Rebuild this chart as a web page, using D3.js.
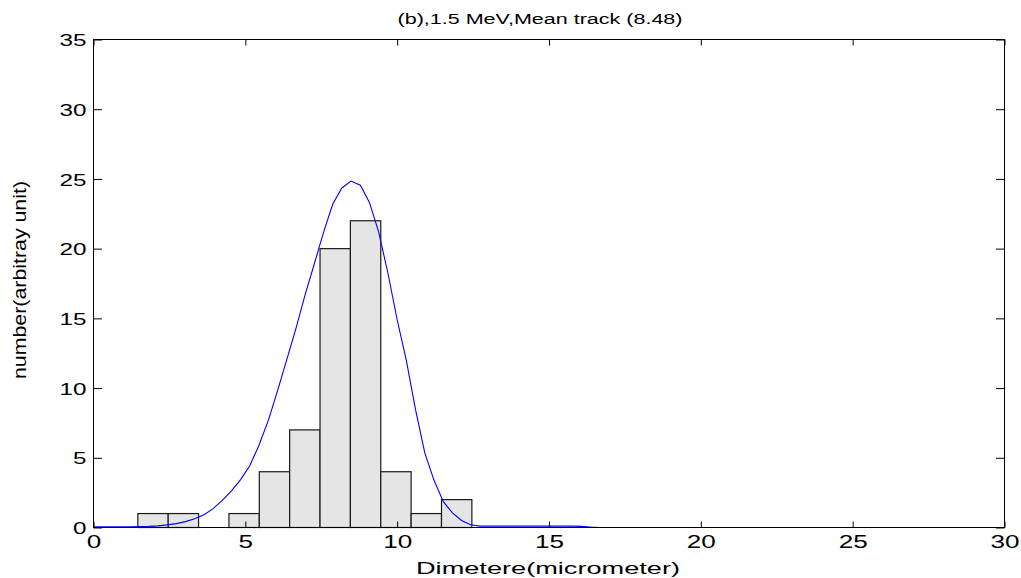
<!DOCTYPE html>
<html><head><meta charset="utf-8">
<script src="https://cdn.jsdelivr.net/npm/d3@7"></script>
<style>
html,body{margin:0;padding:0;background:#fff;}
text{font-family:"Liberation Sans",Arial,sans-serif;fill:#000;}
</style></head>
<body><svg id="chart" width="1021" height="578"></svg>
<script>
// ---- data ----
const binCenters = [1.96, 2.96, 3.96, 4.96, 5.96, 6.96, 7.96, 8.96, 9.96, 10.96, 11.96];
const binCounts  = [1, 1, 0, 1, 4, 7, 20, 22, 4, 1, 2];
const binWidth = 1.0;
const fitX = [0.00,0.30,0.61,0.91,1.21,1.52,1.82,2.12,2.42,2.73,3.03,3.33,3.64,3.94,4.24,4.55,4.85,5.15,5.45,5.76,
              6.06,6.36,6.67,6.97,7.27,7.58,7.88,8.18,8.48,8.79,9.09,9.39,9.70,10.00,10.30,10.61,10.91,11.21,11.52,11.82,
              12.12,12.42,12.73,13.03,13.33,13.64,13.94,14.24,14.55,14.85,15.15,15.45,15.76,16.06,16.36,16.67,30.00];
const fitY = [0.05,0.05,0.05,0.05,0.05,0.06,0.08,0.12,0.19,0.28,0.42,0.62,0.92,1.35,1.95,2.65,3.45,4.45,5.9,7.7,
              9.8,12.0,14.3,16.7,18.9,21.2,23.2,24.35,24.85,24.55,23.3,21.2,18.2,14.9,12.0,8.4,5.35,3.4,1.85,1.05,
              0.5,0.2,0.1,0.1,0.1,0.1,0.1,0.1,0.1,0.1,0.1,0.1,0.1,0.08,0.03,0,0];
const xTicks = [0, 5, 10, 15, 20, 25, 30];
const yTicks = [0, 5, 10, 15, 20, 25, 30, 35];
const titleText = "(b),1.5 MeV,Mean track (8.48)";
const xLabel = "Dimetere(micrometer)";
const yLabel = "number(arbitray unit)";

// ---- layout ----
const svg = d3.select("#chart");
const x = d3.scaleLinear().domain([0, 30]).range([93.5, 1004.5]);
const y = d3.scaleLinear().domain([0, 35]).range([527.5, 39.5]);

// bars
svg.append("g").selectAll("rect").data(binCenters).join("rect")
  .attr("x", (d) => x(d - binWidth / 2))
  .attr("width", (d) => x(d + binWidth / 2) - x(d - binWidth / 2))
  .attr("y", (d, i) => y(binCounts[i]))
  .attr("height", (d, i) => y(0) - y(binCounts[i]))
  .attr("fill", "#e5e5e5")
  .attr("stroke", "#1a1a1a")
  .attr("stroke-width", 1.2);

// fit line
const line = d3.line().x((d) => x(d[0])).y((d) => y(d[1]));
svg.append("path")
  .datum(fitX.map((v, i) => [v, fitY[i]]))
  .attr("d", line)
  .attr("fill", "none")
  .attr("stroke", "#0000ff")
  .attr("stroke-width", 1.1);

// box
svg.append("rect")
  .attr("x", x(0)).attr("y", y(35))
  .attr("width", x(30) - x(0)).attr("height", y(0) - y(35))
  .attr("fill", "none").attr("stroke", "#000").attr("stroke-width", 1);

// axes with inward ticks (MATLAB style)
const xb = svg.append("g").attr("transform", `translate(0,${y(0)})`)
  .call(d3.axisBottom(x).tickValues(xTicks).tickSize(-6).tickPadding(0).tickFormat(d3.format("d")));
const xt = svg.append("g").attr("transform", `translate(0,${y(35)})`)
  .call(d3.axisTop(x).tickValues(xTicks).tickSize(-6).tickFormat(""));
const yl = svg.append("g").attr("transform", `translate(${x(0)},0)`)
  .call(d3.axisLeft(y).tickValues(yTicks).tickSize(-8.5).tickPadding(0).tickFormat(d3.format("d")));
const yr = svg.append("g").attr("transform", `translate(${x(30)},0)`)
  .call(d3.axisRight(y).tickValues(yTicks).tickSize(-8.5).tickFormat(""));
[xb, xt, yl, yr].forEach((g) => {
  g.select(".domain").remove();
  g.selectAll(".tick line").attr("stroke", "#000");
});
xb.selectAll(".tick text")
  .attr("y", 20).attr("dy", 0)
  .attr("font-size", 19)
  .attr("textLength", (d) => String(d).length * 14.5)
  .attr("lengthAdjust", "spacingAndGlyphs");
yl.selectAll(".tick text")
  .attr("x", -7).attr("dy", "0.36em")
  .attr("font-size", 17)
  .attr("textLength", (d) => String(d).length * 13.5)
  .attr("lengthAdjust", "spacingAndGlyphs");
svg.selectAll(".tick text").attr("fill", "#000").attr("font-family", '"Liberation Sans",Arial,sans-serif');

// title
svg.append("text").attr("x", 540).attr("y", 23.5).attr("text-anchor", "middle")
  .attr("font-size", 14).attr("textLength", 285).attr("lengthAdjust", "spacingAndGlyphs")
  .text(titleText);
// x label
svg.append("text").attr("x", 548).attr("y", 574).attr("text-anchor", "middle")
  .attr("font-size", 17).attr("textLength", 264).attr("lengthAdjust", "spacingAndGlyphs")
  .text(xLabel);
// y label
svg.append("text").attr("transform", "translate(26,280) rotate(-90)").attr("text-anchor", "middle")
  .attr("font-size", 18).attr("textLength", 198).attr("lengthAdjust", "spacingAndGlyphs")
  .text(yLabel);
</script></body></html>
